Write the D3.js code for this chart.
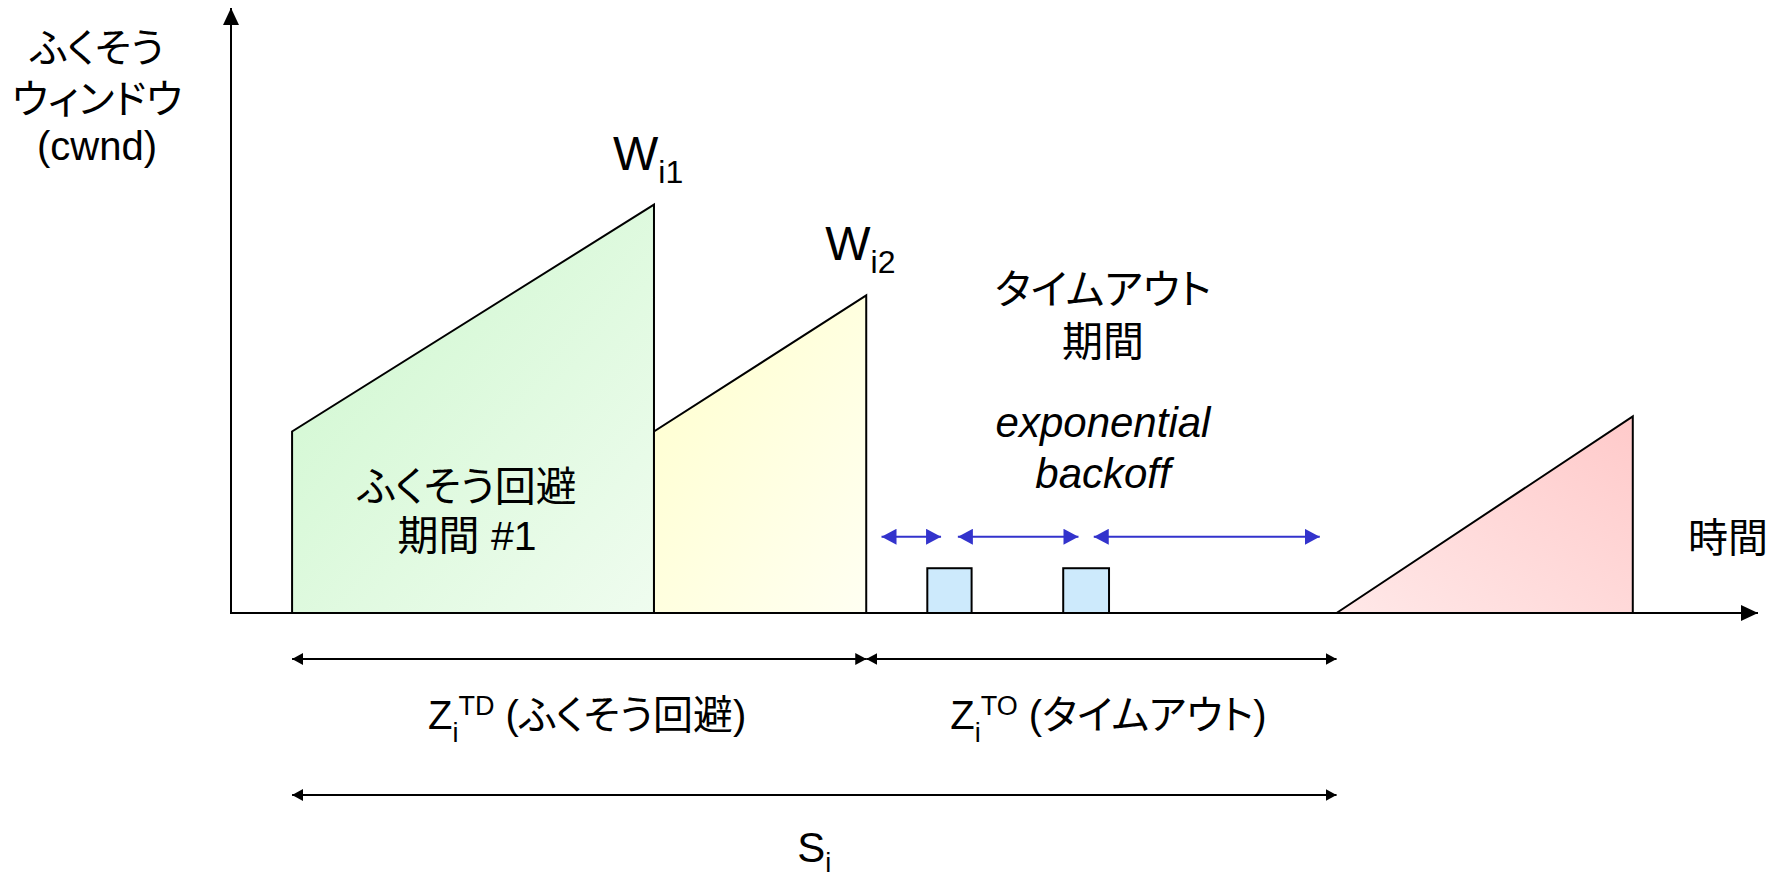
<!DOCTYPE html>
<html>
<head>
<meta charset="utf-8">
<script src="https://cdn.jsdelivr.net/npm/d3@7"></script>
<style>
  html, body { margin: 0; padding: 0; background: #fff; }
  svg { display: block; }
  text {
    font-family: "Liberation Sans", Arial, "Noto Sans CJK JP", sans-serif;
    font-feature-settings: "palt" 1;
    fill: #000;
  }
</style>
</head>
<body>
<div id="chart"></div>
<script>
// cwnd over time, arbitrary units (time 0..100, cwnd 0..100)
var phaseStart = [4.0, 27.7, 72.4],
    phaseEnd   = [27.7, 41.6, 91.8],
    cwndStart  = [30, 30, 0],
    cwndEnd    = [67.5, 52.5, 32.5];

// retransmitted segments during timeout
var probeStart = [45.6, 54.5],
    probeEnd   = [48.5, 57.5],
    probeCwnd  = 7.4;

// exponential backoff intervals
var backoffFrom  = [42.6, 47.6, 56.5],
    backoffTo    = [46.5, 55.5, 71.3],
    backoffLevel = 12.6;

// spans under the axis
var spanFrom  = [4.0, 41.6, 4.0],
    spanTo    = [41.6, 72.4, 72.4],
    spanRow   = [0, 0, 1];

var peakLabels = ["1", "2"];

var W = 1787, H = 878;
var fills = ["url(#gGreen)", "url(#gYellow)", "url(#gPink)"];

var svg = d3.select("#chart").append("svg")
    .attr("width", W)
    .attr("height", H);

var x = d3.scaleLinear().domain([0, 100]).range([231, 1758]),
    y = d3.scaleLinear().domain([0, 100]).range([613, 8]);

var defs = svg.append("defs");

function grad(id, x1, y1, x2, y2, c1, c2) {
    var g = defs.append("linearGradient").attr("id", id)
        .attr("x1", x1).attr("y1", y1).attr("x2", x2).attr("y2", y2);
    g.append("stop").attr("offset", "0%").attr("stop-color", c1);
    g.append("stop").attr("offset", "100%").attr("stop-color", c2);
}
grad("gGreen", 0, 0, 1, 1, "#cdf7cd", "#effcef");
grad("gYellow", 0, 0, 1, 1, "#ffffcc", "#fffff2");
grad("gPink", 1, 0, 0, 1, "#ffcaca", "#ffe8e8");

function marker(id, color, len, half) {
    defs.append("marker").attr("id", id)
        .attr("viewBox", "0 0 " + len + " " + (half * 2))
        .attr("refX", len).attr("refY", half)
        .attr("markerWidth", len).attr("markerHeight", half * 2)
        .attr("markerUnits", "userSpaceOnUse")
        .attr("orient", "auto-start-reverse")
        .append("path")
        .attr("d", "M0,0L" + len + "," + half + "L0," + (half * 2) + "Z")
        .attr("fill", color);
}
marker("axisHead", "#000", 17, 8);
marker("blueHead", "#3333cc", 15, 8);
marker("blackHead", "#000", 11, 6);

// phases (polygons)
var line = d3.line().x(function(d) { return x(d[0]); }).y(function(d) { return y(d[1]); });

var phases = phaseStart.map(function(s, i) {
    return [[s, 0], [s, cwndStart[i]], [phaseEnd[i], cwndEnd[i]], [phaseEnd[i], 0]];
});

svg.selectAll("path.phase")
    .data(phases)
    .enter()
    .append("path")
    .attr("class", "phase")
    .attr("d", function(d) { return line(d) + "Z"; })
    .attr("fill", function(d, i) { return fills[i]; })
    .attr("stroke", "#000")
    .attr("stroke-width", 2)
    .attr("stroke-linejoin", "miter");

// probes
svg.selectAll("rect.probe")
    .data(probeStart)
    .enter()
    .append("rect")
    .attr("class", "probe")
    .attr("x", function(d) { return x(d); })
    .attr("y", y(probeCwnd))
    .attr("width", function(d, i) { return x(probeEnd[i]) - x(d); })
    .attr("height", y(0) - y(probeCwnd))
    .attr("fill", "#cdeafc")
    .attr("stroke", "#000")
    .attr("stroke-width", 2);

// axes
svg.append("line")
    .attr("x1", x(0)).attr("y1", y(0))
    .attr("x2", x(100)).attr("y2", y(0))
    .attr("stroke", "#000").attr("stroke-width", 2)
    .attr("marker-end", "url(#axisHead)");
svg.append("line")
    .attr("x1", x(0)).attr("y1", y(0) + 1)
    .attr("x2", x(0)).attr("y2", y(100))
    .attr("stroke", "#000").attr("stroke-width", 2)
    .attr("marker-end", "url(#axisHead)");

// backoff arrows
svg.selectAll("line.backoff")
    .data(backoffFrom)
    .enter()
    .append("line")
    .attr("class", "backoff")
    .attr("x1", function(d) { return x(d); })
    .attr("x2", function(d, i) { return x(backoffTo[i]); })
    .attr("y1", y(backoffLevel))
    .attr("y2", y(backoffLevel))
    .attr("stroke", "#3333cc")
    .attr("stroke-width", 2)
    .attr("marker-start", "url(#blueHead)")
    .attr("marker-end", "url(#blueHead)");

// spans under axis
var rowY = [659, 795];
svg.selectAll("line.span")
    .data(spanFrom)
    .enter()
    .append("line")
    .attr("class", "span")
    .attr("x1", function(d) { return x(d); })
    .attr("x2", function(d, i) { return x(spanTo[i]); })
    .attr("y1", function(d, i) { return rowY[spanRow[i]]; })
    .attr("y2", function(d, i) { return rowY[spanRow[i]]; })
    .attr("stroke", "#000")
    .attr("stroke-width", 2)
    .attr("marker-start", "url(#blackHead)")
    .attr("marker-end", "url(#blackHead)");

// texts
function lines(cx, baselines, strs, size, italic) {
    strs.forEach(function(s, i) {
        svg.append("text")
            .attr("x", cx).attr("y", baselines[i])
            .attr("text-anchor", "middle")
            .style("font-size", size + "px")
            .style("font-style", italic ? "italic" : "normal")
            .text(s);
    });
}

lines(97, [62, 113, 160], ["ふくそう", "ウィンドウ", "(cwnd)"], 40);
lines((x(phaseStart[0]) + x(phaseEnd[0])) / 2 - 6, [501, 550], ["ふくそう回避", "期間 #1"], 41);
lines(1103, [304, 356], ["タイムアウト", "期間"], 41);
lines(1103, [437, 488], ["exponential", "backoff"], 42, true);

svg.append("text")
    .attr("x", 1688).attr("y", 552)
    .style("font-size", "40px")
    .text("時間");

// peak labels W_i1, W_i2
peakLabels.forEach(function(k, i) {
    var t = svg.append("text")
        .attr("x", x(phaseEnd[i]) - 41)
        .attr("y", y(cwndEnd[i]) - 35)
        .style("font-size", "48px");
    t.append("tspan").text("W");
    t.append("tspan").attr("dy", 13).style("font-size", "32px").text("i" + k);
});

// span labels
function spanLabel(cx, by, sup, rest) {
    var t = svg.append("text")
        .attr("x", cx).attr("y", by)
        .attr("text-anchor", "middle")
        .style("font-size", "40px");
    t.append("tspan").text("Z");
    t.append("tspan").attr("dy", 13).style("font-size", "27px").text("i");
    t.append("tspan").attr("dy", -27).style("font-size", "27px").text(sup);
    t.append("tspan").attr("dy", 14).text(" " + rest);
}
spanLabel((x(spanFrom[0]) + x(spanTo[0])) / 2 + 8, 729, "TD", "(ふくそう回避)");
spanLabel((x(spanFrom[1]) + x(spanTo[1])) / 2 + 7, 729, "TO", "(タイムアウト)");

var st = svg.append("text")
    .attr("x", (x(spanFrom[2]) + x(spanTo[2])) / 2)
    .attr("y", 862)
    .attr("text-anchor", "middle")
    .style("font-size", "42px");
st.append("tspan").text("S");
st.append("tspan").attr("dy", 10).style("font-size", "27px").text("i");
</script>
</body>
</html>
